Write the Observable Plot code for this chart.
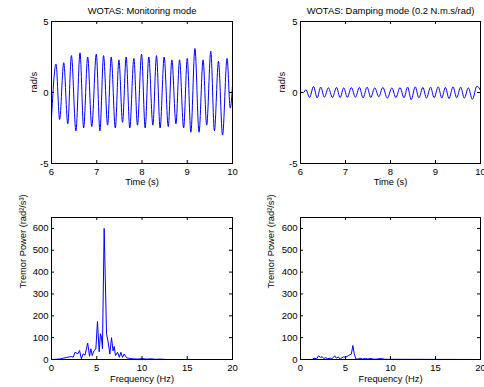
<!DOCTYPE html>
<html><head><meta charset="utf-8">
<script src="https://cdn.jsdelivr.net/npm/d3@7"></script>
<script src="https://cdn.jsdelivr.net/npm/@observablehq/plot@0.6"></script>
<style>
body{margin:0;background:#fff;}
#c{position:relative;width:484px;height:387px;overflow:hidden;background:#fff;}
#c svg{position:absolute;left:0;top:0;}
</style></head><body><div id="c"></div>
<script>
// Monitoring mode: angular velocity extrema (s, rad/s)
const monTime = [6.00, 6.10, 6.18, 6.27, 6.36, 6.44, 6.54, 6.63, 6.71, 6.80, 6.89, 6.99, 7.07, 7.15, 7.24, 7.32, 7.41, 7.49, 7.57, 7.65, 7.73, 7.82, 7.90, 7.99, 8.07, 8.15, 8.24, 8.32, 8.40, 8.49, 8.58, 8.66, 8.75, 8.83, 8.92, 9.00, 9.08, 9.17, 9.26, 9.35, 9.43, 9.52, 9.60, 9.69, 9.78, 9.88, 9.95, 10.00];
const monVal  = [-1.8, 2.0, -1.9, 2.1, -2.2, 2.6, -2.7, 2.8, -2.5, 2.5, -2.4, 2.7, -2.7, 2.6, -2.3, 2.5, -2.5, 2.3, -2.1, 2.5, -2.5, 2.4, -2.3, 2.7, -2.5, 2.5, -2.3, 2.6, -2.5, 2.5, -2.4, 2.3, -2.2, 2.3, -2.5, 2.4, -2.8, 3.1, -2.8, 2.3, -2.3, 2.9, -2.7, 2.2, -3.0, 2.4, -1.1, 0.5];
// Damping mode
const dampTime = [6.00, 6.07, 6.12, 6.20, 6.29, 6.37, 6.45, 6.53, 6.62, 6.71, 6.80, 6.88, 6.96, 7.04, 7.13, 7.22, 7.31, 7.39, 7.48, 7.56, 7.65, 7.74, 7.83, 7.93, 8.03, 8.12, 8.21, 8.30, 8.38, 8.46, 8.55, 8.63, 8.72, 8.80, 8.89, 8.97, 9.06, 9.14, 9.22, 9.30, 9.39, 9.47, 9.56, 9.64, 9.73, 9.82, 9.92, 10.00];
const dampVal  = [0.02, 0.0, 0.2, -0.35, 0.42, -0.38, 0.38, -0.33, 0.33, -0.35, 0.36, -0.36, 0.33, -0.34, 0.35, -0.33, 0.36, -0.38, 0.38, -0.35, 0.33, -0.30, 0.36, -0.40, 0.32, -0.36, 0.35, -0.37, 0.38, -0.50, 0.40, -0.38, 0.36, -0.40, 0.38, -0.36, 0.40, -0.38, 0.36, -0.42, 0.40, -0.37, 0.38, -0.40, 0.33, -0.48, 0.45, 0.15];
// Tremor power spectra (Hz, rad^2/s^3)
const monFreq  = [0, 0.5, 1.0, 1.3, 1.7, 2.0, 2.2, 2.4, 2.6, 2.9, 3.1, 3.3, 3.5, 3.7, 4.0, 4.2, 4.35, 4.5, 4.7, 4.9, 5.08, 5.27, 5.41, 5.52, 5.63, 5.82, 6.08, 6.26, 6.45, 6.63, 6.8, 6.93, 7.07, 7.3, 7.5, 7.66, 7.85, 8.03, 8.3, 8.6, 9.0, 9.5, 10, 10.5, 11, 11.5, 12, 12.5, 13, 20];
const monPow   = [0, 1, 3, 6, 10, 12, 14, 10, 33, 26, 41, 3, 26, 20, 75, 15, 49, 18, 41, 48, 174, 35, 118, 102, 49, 600, 118, 80, 25, 100, 40, 60, 18, 33, 10, 33, 10, 25, 8, 5, 3, 2, 4, 2, 3, 1, 2, 0.5, 0, 0];
const dampFreq = [0, 1.3, 1.5, 1.8, 2.0, 2.2, 2.4, 2.6, 2.8, 3.0, 3.3, 3.5, 3.8, 4.0, 4.2, 4.4, 4.6, 4.8, 5.0, 5.3, 5.5, 5.65, 5.82, 5.97, 6.15, 6.4, 6.6, 6.9, 7.2, 7.5, 7.7, 8.0, 8.3, 9.0, 9.3, 10, 20];
const dampPow  = [0, 0, 6, 3, 17, 10, 12, 5, 8, 4, 6, 3, 17, 6, 12, 2, 8, 12, 10, 17, 22, 25, 64, 26, 3, 2, 6, 2, 5, 2, 5, 3, 1, 5, 1, 1, 0];
// Axis ticks and texts
const timeTicks = [6, 7, 8, 9, 10];
const velTicks = [-5, 0, 5];
const freqTicks = [0, 5, 10, 15, 20];
const powTicks = [0, 100, 200, 300, 400, 500, 600];
const titles = ["WOTAS: Monitoring mode", "WOTAS: Damping mode (0.2 N.m.s/rad)"];
const timeLabel = "Time (s)";
const freqLabel = "Frequency (Hz)";
const velLabel = "rad/s";
const powLabel = "Tremor Power (rad²/s³)";

const W = 484, H = 387;
const FONT = "'Liberation Sans', Arial, Helvetica, sans-serif";

function panel(o) {
  const fw = o.right - o.left, fh = o.bottom - o.top;
  const data = o.xs.map((x, i) => ({x, y: o.ys[i]}));
  const marks = [
    Plot.line(data, {x: "x", y: "y", stroke: "#0000ff", strokeWidth: 1, curve: o.curve, clip: true}),
    Plot.frame({stroke: "black", strokeWidth: 1}),
    Plot.ruleX(o.xTicks, {x: d => d, stroke: "black", insetTop: fh - 3}),
    Plot.ruleX(o.xTicks, {x: d => d, stroke: "black", insetBottom: fh - 3}),
    Plot.ruleY(o.yTicks, {y: d => d, stroke: "black", insetRight: fw - 3}),
    Plot.ruleY(o.yTicks, {y: d => d, stroke: "black", insetLeft: fw - 3}),
    Plot.axisX({ticks: o.xTicks, tickSize: 0, tickPadding: o.xPad, tickFormat: d => String(d), label: null, fontSize: 9.5}),
    Plot.axisY({ticks: o.yTicks, tickSize: 0, tickPadding: 3, tickFormat: d => String(d), label: null, fontSize: 9.5}),
    Plot.text([o.xLabel], {text: d => d, frameAnchor: "bottom", dy: o.xLabDy, lineAnchor: "middle", fontSize: 9.3}),
    Plot.text([o.yLabel], {text: d => d, frameAnchor: "left", dx: o.yLabX - o.left, rotate: -90, lineAnchor: "middle", fontSize: 9.3})
  ];
  if (o.title) marks.push(Plot.text([o.title], {text: d => d, frameAnchor: "top", dy: -10.5, lineAnchor: "middle", fontSize: 9.4}));
  return Plot.plot({
    width: W, height: H,
    marginLeft: o.left, marginRight: W - o.right, marginTop: o.top, marginBottom: H - o.bottom,
    x: {domain: o.xDomain},
    y: {domain: o.yDomain},
    style: {background: "transparent", fontFamily: FONT, fontSize: "9.5px", overflow: "visible", color: "black"},
    marks
  });
}

const c = document.getElementById("c");
c.append(panel({left: 51, right: 232, top: 21, bottom: 163, xDomain: [6, 10], yDomain: [-5, 5],
  xTicks: timeTicks, yTicks: velTicks, xs: monTime, ys: monVal, curve: "monotone-x",
  title: titles[0], xLabel: timeLabel, yLabel: velLabel, yLabX: 33.5, xPad: 5, xLabDy: 18.5}));
c.append(panel({left: 300, right: 480, top: 21, bottom: 163, xDomain: [6, 10], yDomain: [-5, 5],
  xTicks: timeTicks, yTicks: velTicks, xs: dampTime, ys: dampVal, curve: "monotone-x",
  title: titles[1], xLabel: timeLabel, yLabel: velLabel, yLabX: 281.5, xPad: 5, xLabDy: 18.5}));
c.append(panel({left: 51, right: 232, top: 217, bottom: 359, xDomain: [0, 20], yDomain: [0, 650],
  xTicks: freqTicks, yTicks: powTicks, xs: monFreq, ys: monPow, curve: "linear",
  xLabel: freqLabel, yLabel: powLabel, yLabX: 23, xPad: 4.5, xLabDy: 20}));
c.append(panel({left: 300, right: 480, top: 217, bottom: 359, xDomain: [0, 20], yDomain: [0, 650],
  xTicks: freqTicks, yTicks: powTicks, xs: dampFreq, ys: dampPow, curve: "linear",
  xLabel: freqLabel, yLabel: powLabel, yLabX: 271, xPad: 4.5, xLabDy: 20}));
</script>
</body></html>
